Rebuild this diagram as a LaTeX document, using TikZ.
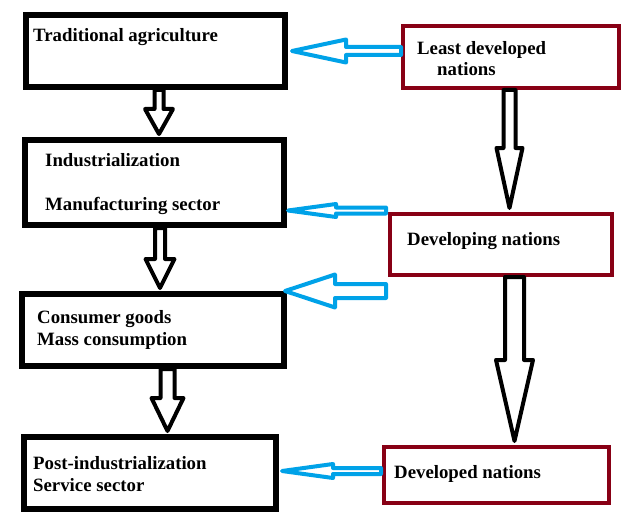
\documentclass[tikz,border=0pt]{standalone}
\usepackage{fontspec}
\setmainfont{Liberation Serif}
\usetikzlibrary{calc}
\definecolor{paintblue}{RGB}{0,162,232}
\definecolor{paintred}{RGB}{136,0,21}
\tikzset{
  blackbox/.style={draw=black, line width=6pt, rectangle, inner sep=0pt, fill=white},
  redbox/.style={draw=paintred, line width=4pt, rectangle, inner sep=0pt, fill=white},
  lbl/.style={anchor=base west, inner sep=0pt, font=\bfseries\fontsize{18.8}{22}\selectfont},
  blkarrow/.style={draw=black, line width=4pt, line join=round, fill=white},
  bluearrow/.style={draw=paintblue, line width=4pt, line join=round, fill=white},
}
% #1 start (shaft end), #2 tip point (y used), #3 shaft half width, #4 head half width, #5 head length
\newcommand\hollowdown[6][blkarrow]{%
  \path[#1] let \p1=(#2), \p2=(#3) in
    (\x1-#4pt,\y1) -- (\x1-#4pt,\y2+#6pt) -- (\x1-#5pt,\y2+#6pt) -- (\x1,\y2)
    -- (\x1+#5pt,\y2+#6pt) -- (\x1+#4pt,\y2+#6pt) -- (\x1+#4pt,\y1) -- cycle;}
\newcommand\hollowleft[6][bluearrow]{%
  \path[#1] let \p1=(#2), \p2=(#3) in
    (\x1,\y1-#4pt) -- (\x2+#6pt,\y1-#4pt) -- (\x2+#6pt,\y1-#5pt) -- (\x2,\y1)
    -- (\x2+#6pt,\y1+#5pt) -- (\x2+#6pt,\y1+#4pt) -- (\x1,\y1+#4pt) -- cycle;}
\begin{document}
\begin{tikzpicture}[x=1pt,y=-1pt]
\useasboundingbox (0,0) rectangle (630,527);
\fill[white] (0,0) rectangle (630,527);
% left boxes
\node[blackbox, minimum width=259pt, minimum height=72pt] (tra) at (155.5,51) {};
\node[blackbox, minimum width=259pt, minimum height=85pt] (ind) at (154.5,182.5) {};
\node[blackbox, minimum width=262pt, minimum height=72pt] (con) at (153,330) {};
\node[blackbox, minimum width=252pt, minimum height=72pt] (post) at (150,473) {};
% right boxes
\node[redbox, minimum width=216pt, minimum height=62pt] (ldn) at (511,57) {};
\node[redbox, minimum width=222pt, minimum height=61pt] (dev) at (501,244.5) {};
\node[redbox, minimum width=225pt, minimum height=56pt] (dvd) at (496.5,475) {};
% labels
\node[lbl] (t1) at (33,41.5) {Traditional agriculture};
\node[lbl] (t2) at (45,166.5) {Industrialization};
\node[lbl] (t3) at (45,210.5) {Manufacturing sector};
\node[lbl] (t4) at (37,323) {Consumer goods};
\node[lbl] (t5) at (37,345) {Mass consumption};
\node[lbl] (t6) at (33,469) {Post-industrialization};
\node[lbl] (t7) at (33,491) {Service sector};
\node[lbl] (t8) at (417,55) {Least developed};
\node[lbl] (t9) at (437,76) {nations};
\node[lbl] (t10) at (407,245) {Developing nations};
\node[lbl] (t11) at (394,478) {Developed nations};
% black hollow arrows
\hollowdown{$(tra.south)+(3.5,0)$}{$(ind.north)+(0,-3)$}{4.5}{14}{25}
\hollowdown{$(ind.south)+(5.5,0)$}{$(con.north)+(0,-3)$}{5}{14.5}{29}
\hollowdown{$(con.south)+(14.5,0)$}{$(post.north)+(0,-3)$}{7}{16}{33}
\hollowdown{$(ldn.south)+(-1.5,0)$}{$(dev.north)+(0,-4)$}{6}{13}{60}
\hollowdown{$(dev.south)+(13.5,0)$}{$(dvd.north)+(0,-4)$}{9.5}{18.5}{81}
% blue hollow arrows
\hollowleft{$(ldn.west)+(0,-6)$}{$(tra.east)+(4,0)$}{4}{11.5}{54}
\hollowleft{$(dev.north west)+(-2,-1.5)$}{$(ind.east)+(1,0)$}{3}{6.5}{48}
\hollowleft{$(dev.south west)+(-2,14)$}{$(con.east)+(-2,0)$}{7}{16.5}{50}
\hollowleft{$(dvd.west)+(-1,-4)$}{$(post.east)+(3,0)$}{3}{7}{51}
\end{tikzpicture}
\end{document}
